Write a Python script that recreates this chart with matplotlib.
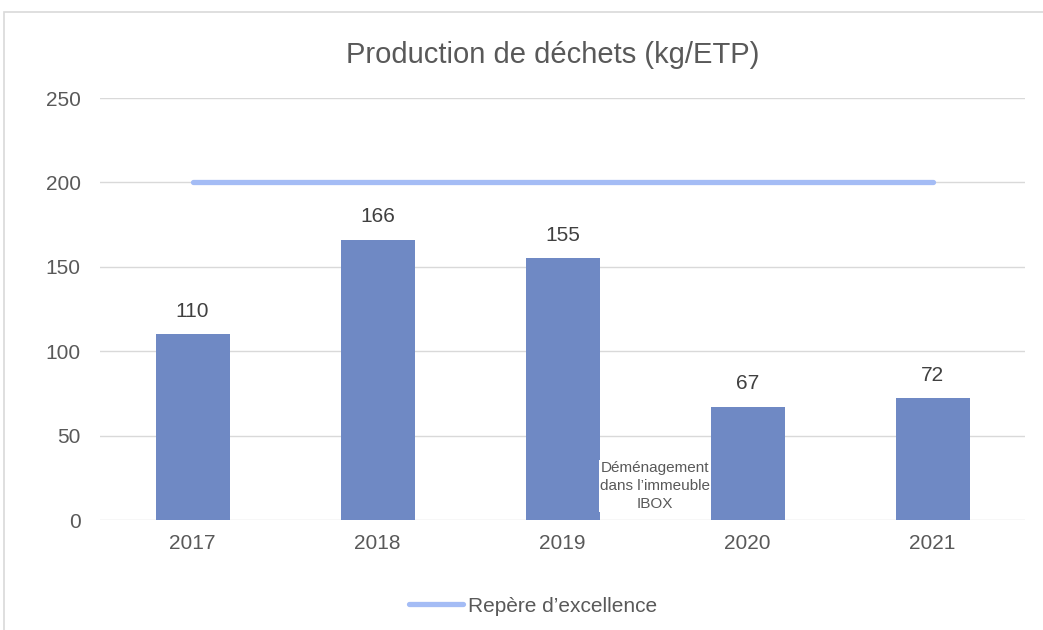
import matplotlib
matplotlib.use('Agg')
from matplotlib import pyplot as plt
from matplotlib.patches import Rectangle

years = ['2017', '2018', '2019', '2020', '2021']
dechets = [110, 166, 155, 67, 72]
repere = [200, 200, 200, 200, 200]

grey = '#595959'
plt.rcParams['font.family'] = ['Liberation Sans', 'DejaVu Sans']

fig = plt.figure(figsize=(10.43, 6.30), dpi=100)
W, H = 1043, 630
ax = fig.add_axes([100 / W, 1 - 520 / H, 925 / W, 422 / H])

x = range(len(years))
ax.bar(x, dechets, width=0.4, color='#6F89C4', zorder=2)
line, = ax.plot(x, repere, color='#A4BCF5', lw=3.8, solid_capstyle='round',
                zorder=3)
for xi, v in zip(x, dechets):
    ax.text(xi, v + 8, str(v), ha='center', va='bottom', fontsize=15,
            color='#404040')

ax.set_xlim(-0.5, len(years) - 0.5)
ax.set_ylim(0, 250)
ax.set_yticks(range(0, 251, 50))
ax.set_xticks(list(x))
ax.set_xticklabels(years)
ax.tick_params(length=0, labelsize=15, colors=grey, pad=10)
ax.tick_params(axis='y', pad=14)
ax.grid(axis='y', color='#D9D9D9', lw=1, zorder=0)
for s in ax.spines.values():
    s.set_visible(False)

ax.text(2.5, 20, 'Déménagement\ndans l\u2019immeuble\nIBOX', ha='center',
        va='center', fontsize=11, color=grey, linespacing=1.35,
        bbox=dict(facecolor='white', edgecolor='none', pad=1), zorder=4)

fig.text(553 / W, 1 - 55 / H, 'Production de déchets (kg/ETP)', ha='center',
         va='center', fontsize=21, color=grey)

fig.legend([line], ['Repère d\u2019excellence'], loc='center',
           bbox_to_anchor=(533 / W, 1 - 606 / H), frameon=False, fontsize=15,
           labelcolor=grey, handlelength=2.6, handletextpad=0.2)

fig.patches.append(Rectangle((3.5 / W, -0.1), 1.2, 1.1 - 12.5 / H,
                             transform=fig.transFigure, fill=False,
                             edgecolor='#D9D9D9', lw=1.2))

fig.savefig('out.png', dpi=100)
